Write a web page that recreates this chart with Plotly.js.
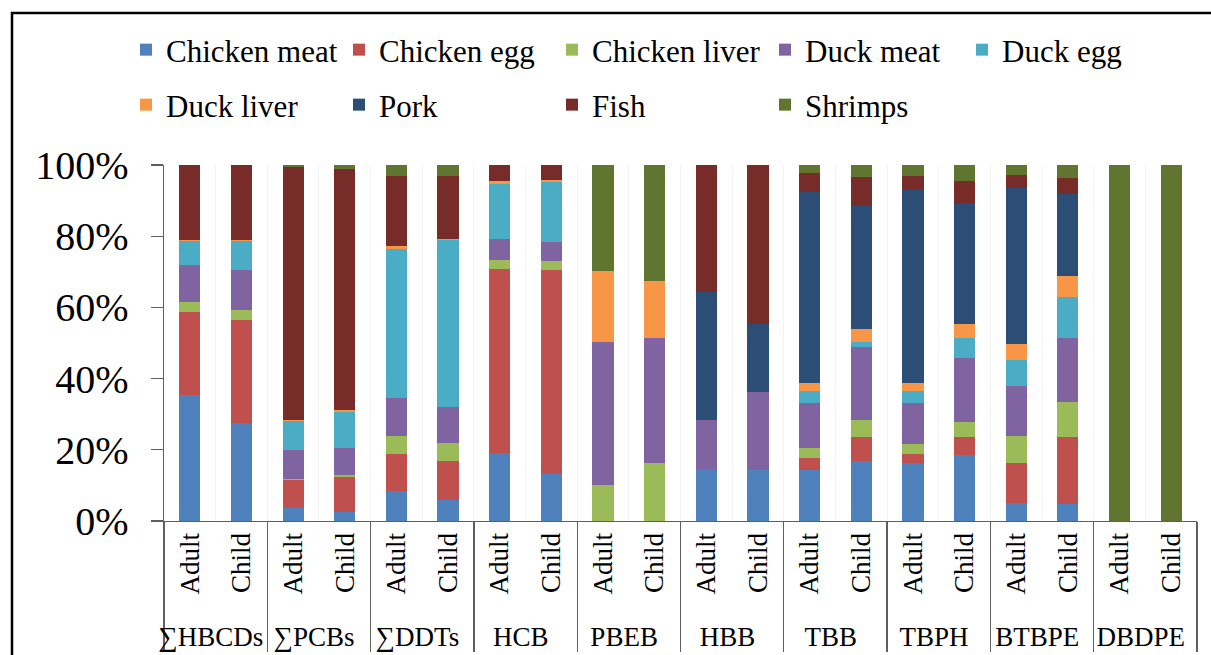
<!DOCTYPE html>
<html>
<head>
<meta charset="utf-8">
<script src="https://cdn.plot.ly/plotly-3.0.1.min.js"></script>
<style>html,body{margin:0;padding:0;background:#fff;}#chart{width:1211px;height:655px;}</style>
</head>
<body>
<div id="chart"></div>
<script>
const groupNames = ['∑HBCDs','∑PCBs','∑DDTs','HCB','PBEB','HBB','TBB','TBPH','BTBPE','DBDPE'];
const ageGroups = ['Adult','Child'];
const seriesNames = ['Chicken meat','Chicken egg','Chicken liver','Duck meat','Duck egg','Duck liver','Pork','Fish','Shrimps'];
const seriesColors = ['#4F81BD','#C0504D','#9BBB59','#8064A2','#4BACC6','#F79646','#2C4D75','#772C2A','#5F7530'];

// values in %, order: each group Adult, Child
const chickenMeat  = [35.4,27.4, 3.7, 2.6, 8.5, 5.9,19.1,13.1, 0, 0,14.5,14.2,14.4,16.9,16.3,18.6, 5.0, 4.8, 0, 0];
const chickenEgg   = [23.2,29.2, 7.8, 9.8,10.2,11.0,51.7,57.3, 0, 0, 0, 0, 3.2, 6.6, 2.6, 4.9,11.4,18.7, 0, 0];
const chickenLiver = [ 3.0, 2.7, 0.3, 0.4, 5.1, 5.1, 2.6, 2.7,10.1,16.3, 0, 0, 3.0, 5.0, 2.7, 4.4, 7.4,10.0, 0, 0];
const duckMeat     = [10.2,11.1, 8.1, 7.8,10.8,10.1, 5.7, 5.2,40.1,35.1,14.0,21.9,12.5,20.3,11.5,18.0,14.1,17.9, 0, 0];
const duckEgg      = [ 6.9, 8.3, 8.3,10.1,41.8,46.8,15.7,16.8, 0, 0, 0, 0, 3.3, 1.4, 3.5, 5.5, 7.3,11.4, 0, 0];
const duckLiver    = [ 0.2, 0.3, 0.3, 0.4, 0.9, 0.4, 0.6, 0.7,20.0,16.1, 0, 0, 2.4, 3.6, 2.3, 3.9, 4.4, 5.9, 0, 0];
const pork         = [ 0, 0, 0, 0, 0, 0, 0, 0, 0, 0,35.8,19.3,53.7,34.7,54.3,33.9,44.0,23.2, 0, 0];
const fish         = [21.1,21.0,71.0,67.8,19.7,17.7, 4.6, 4.2, 0, 0,35.7,44.6, 5.2, 8.0, 3.8, 6.3, 3.5, 4.4, 0, 0];
const shrimps      = [ 0, 0, 0.5, 1.1, 3.0, 3.0, 0, 0,29.8,32.5, 0, 0, 2.3, 3.5, 3.0, 4.5, 2.9, 3.7,100,100];
const yTickVals = [0,20,40,60,80,100];
const yTickText = ['0%','20%','40%','60%','80%','100%'];

const seriesValues = [chickenMeat,chickenEgg,chickenLiver,duckMeat,duckEgg,duckLiver,pork,fish,shrimps];
// legend row assignment (row 1: first five series, Duck egg split off so the row is not wrapped)
const legendOf = ['legend','legend','legend','legend','legend3','legend2','legend2','legend2','legend2'];

const xOuter = [], xInner = [];
groupNames.forEach(g => ageGroups.forEach(a => { xOuter.push(g); xInner.push(a); }));

const serif = 'Liberation Serif';
const axisGrey = '#5f5f5f';

const traces = seriesNames.map((name, i) => ({
  type: 'bar',
  name: name,
  x: [xOuter, xInner],
  y: seriesValues[i],
  marker: {color: seriesColors[i], line: {width: 0}},
  legend: legendOf[i],
  hoverinfo: 'name+y'
}));

const legendCommon = {
  orientation: 'h',
  xref: 'container', yref: 'container',
  xanchor: 'left', yanchor: 'middle',
  font: {family: serif, size: 31, color: '#000'},
  entrywidth: 168, entrywidthmode: 'pixels',
  bgcolor: 'rgba(0,0,0,0)',
  traceorder: 'normal'
};

const layout = {
  width: 1211, height: 655,
  margin: {l: 164, r: 14, t: 165, b: 134},
  paper_bgcolor: '#fff', plot_bgcolor: '#fff',
  barmode: 'stack',
  barnorm: 'percent',
  bargap: 0.59,
  showlegend: true,
  legend: Object.assign({}, legendCommon, {x: 126/1211, y: 1 - 50/655}),
  legend3: Object.assign({}, legendCommon, {x: (126 + 4 * 209)/1211, y: 1 - 50/655}),
  legend2: Object.assign({}, legendCommon, {x: 126/1211, y: 1 - 105/655}),
  xaxis: {
    type: 'multicategory',
    tickangle: -90,
    tickfont: {family: serif, size: 27, color: '#000'},
    showline: true, linecolor: axisGrey, linewidth: 1.3,
    showgrid: true, gridcolor: '#f3f3f3', gridwidth: 1,
    ticks: '',
    showdividers: true, dividercolor: axisGrey, dividerwidth: 1.3,
    zeroline: false
  },
  yaxis: {
    range: [0, 100],
    tickvals: yTickVals, ticktext: yTickText,
    tickfont: {family: serif, size: 40, color: '#000'},
    showline: true, linecolor: axisGrey, linewidth: 1.3,
    ticks: 'outside', ticklen: 12, tickcolor: axisGrey, tickwidth: 1.3,
    showgrid: false, zeroline: false,
    ticklabelstandoff: 14
  },
  shapes: [{
    type: 'rect', xref: 'paper', yref: 'paper',
    x0: (12 - 164) / 1033, x1: 1.2,
    y0: -1, y1: (521 - 13) / 356,
    line: {color: '#000', width: 2.5}, fillcolor: 'rgba(0,0,0,0)', layer: 'above'
  }]
};

Plotly.newPlot('chart', traces, layout, {displayModeBar: false, staticPlot: true});
</script>
</body>
</html>
